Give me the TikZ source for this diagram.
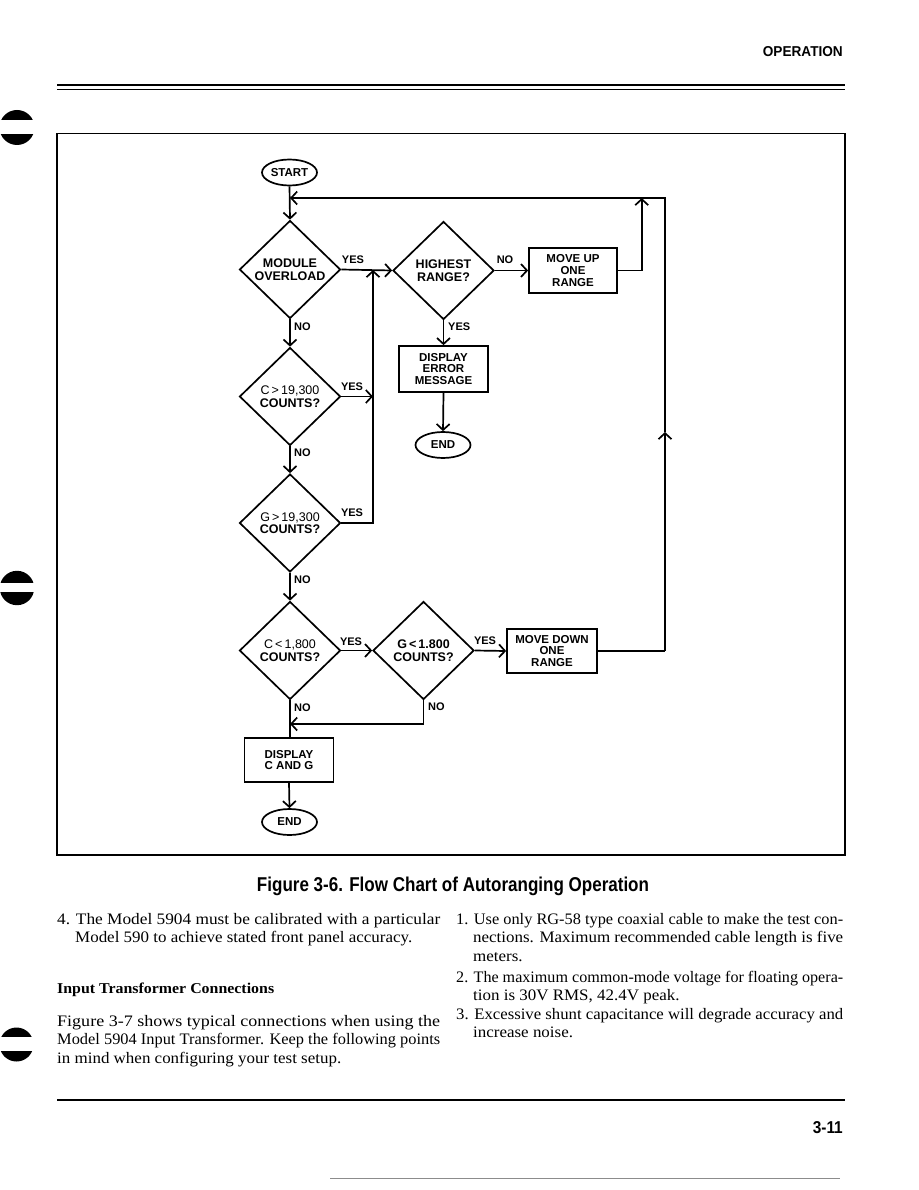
\documentclass[tikz,border=0pt]{standalone}
\usepackage{fontspec}
\setmainfont{Liberation Serif}
\newfontfamily\hsans{Liberation Sans}
\usetikzlibrary{shapes.geometric,arrows.meta}
% justified line: stretched to a given width
\newcommand{\jline}[5]{\node[anchor=base west,inner sep=0pt] (#1) at (#2,#3) {\resizebox{#4pt}{\height}{\fontsize{16}{18}\selectfont #5}};}
% last line of a paragraph: natural width, slightly widened
\newcommand{\eline}[4]{\node[anchor=base west,inner sep=0pt] (#1) at (#2,#3) {\scalebox{1.06}[1]{\fontsize{16}{18}\selectfont #4}};}
\begin{document}
\begin{tikzpicture}[x=1pt,y=-1pt,
  fc/.style={line width=1.7pt},
  arr/.style={fc,-{Straight Barb[length=6pt,width=13pt]}},
  dia/.style={draw,fc,diamond,minimum width=101pt,minimum height=98pt,inner sep=0pt},
  term/.style={draw,fc,ellipse,minimum width=55pt,minimum height=26pt,inner sep=0pt,font=\hsans\bfseries\fontsize{11.5}{12}\selectfont},
  proc/.style={draw,fc,rectangle,inner sep=0pt,align=center,font=\hsans\bfseries\fontsize{11.5}{11.8}\selectfont},
  dtxt/.style={align=center,inner sep=0pt,font=\hsans\bfseries\fontsize{12.5}{12.5}\selectfont},
  lab/.style={inner sep=0pt,font=\hsans\bfseries\fontsize{11}{12}\selectfont},
  margmark/.style={fill=black}
]
\useasboundingbox (0,0) rectangle (918,1190);

% header
\node[anchor=base east,inner sep=0pt] (hdr) at (843,56.7) {\resizebox{80pt}{10pt}{\hsans\bfseries OPERATION}};
\draw[line width=1.8pt] (57,85) -- (845,85);
\draw[line width=1.3pt] (57,89.5) -- (845,89.5);

% margin marks (circle with a band removed)
\begin{scope}\clip (0,105) rectangle (40,119.3); \fill[margmark] (17,127.5) circle (17.5); \end{scope}
\begin{scope}\clip (0,135) rectangle (40,150); \fill[margmark] (17,127.5) circle (17.5); \end{scope}
\begin{scope}\clip (0,565) rectangle (40,582); \fill[margmark] (17,588) circle (17.2); \end{scope}
\begin{scope}\clip (0,592) rectangle (40,610); \fill[margmark] (17,588) circle (17.2); \end{scope}
\begin{scope}\clip (0,1022) rectangle (40,1036.7); \fill[margmark] (16.5,1044.5) circle (17); \end{scope}
\begin{scope}\clip (0,1051.7) rectangle (40,1068); \fill[margmark] (16.5,1044.5) circle (17); \end{scope}

% frame
\draw[line width=1.2pt] (57,133.5) rectangle (845,855);

% flowchart nodes
\node[term] (start) at (289.5,172.5) {START};
\node[dia] (d1) at (290,269.5) {};
\node[dtxt] (t1) at (d1) {MODULE\\OVERLOAD};
\node[dia] (d2) at (443.5,270.5) {};
\node[dtxt] (t2) at (d2) {HIGHEST\\RANGE?};
\node[proc,minimum width=88pt,minimum height=45pt] (moveup) at (573,270.5) {MOVE UP\\ONE\\RANGE};
\node[proc,minimum width=89pt,minimum height=46pt] (err) at (443.5,369) {DISPLAY\\ERROR\\MESSAGE};
\node[term] (end1) at (443,445) {END};
\node[dia] (d3) at (290,396.5) {};
\node[dtxt] (t3) at (d3) {{\mdseries C\,>\,19,300}\\COUNTS?};
\node[dia] (d4) at (290,523) {};
\node[dtxt] (t4) at (d4) {{\mdseries G\,>\,19,300}\\COUNTS?};
\node[dia] (d5) at (290,650.5) {};
\node[dtxt] (t5) at (d5) {{\mdseries C\,<\,1,800}\\COUNTS?};
\node[dia] (d6) at (423.5,650.5) {};
\node[dtxt] (t6) at (d6) {G\,<\,1.800\\COUNTS?};
\node[proc,minimum width=90pt,minimum height=44pt] (movedown) at (552,651) {MOVE DOWN\\ONE\\RANGE};
\node[proc,minimum width=89pt,minimum height=44pt] (dispcg) at (289,760) {DISPLAY\\C AND G};
\node[term] (end2) at (289.5,822) {END};

% junction coordinates
\coordinate (jt) at (290,198);
\coordinate (rt) at (665,198);
\coordinate (rb) at (665,651);
\coordinate (rm) at (665,432);
\coordinate (mu) at (641.7,198);
\coordinate (jv) at (373,270);
\coordinate (jc) at (373,396.5);
\coordinate (jb) at (290,724);

% connectors
\draw[arr] (start.south) -- (d1.north);
\draw[fc] (movedown.east) -- (rb);
\draw[arr] (rb) -- (rm);
\draw[arr] (rm) -- (rt) -- (jt);
\draw[arr] (moveup.east) -| (mu);
\draw[arr] (d1.east) -- (d2.west);
\draw[arr] (d2.east) -- (moveup.west);
\draw[arr] (d2.south) -- (err.north);
\draw[arr] (err.south) -- (end1.north);
\draw[arr] (d1.south) -- (d3.north);
\draw[arr] (d3.east) -- (jc);
\draw[arr] (d3.south) -- (d4.north);
\draw[arr] (d4.east) -| (jv);
\draw[arr] (d4.south) -- (d5.north);
\draw[arr] (d5.east) -- (d6.west);
\draw[arr] (d6.east) -- (movedown.west);
\draw[arr] (d6.south) |- (jb);
\draw[fc] (d5.south) -- (d5.south |- dispcg.north);
\draw[arr] (dispcg.south) -- (end2.north);

% connector labels
\node[lab] (l1) at (353,260) {YES};
\node[lab] (l2) at (505,260) {NO};
\node[lab,anchor=west] (l3) at (294,327) {NO};
\node[lab,anchor=west] (l4) at (448,327) {YES};
\node[lab] (l5) at (352,387) {YES};
\node[lab,anchor=west] (l6) at (294,453) {NO};
\node[lab] (l7) at (352,513) {YES};
\node[lab,anchor=west] (l8) at (294,580) {NO};
\node[lab] (l9) at (351,642) {YES};
\node[lab] (l10) at (485,641) {YES};
\node[lab,anchor=west] (l11) at (294,708) {NO};
\node[lab,anchor=west] (l12) at (428,707) {NO};

% caption
\node[anchor=base,inner sep=0pt] (cap) at (453,891) {\resizebox{392pt}{14.5pt}{\hsans\bfseries Figure 3-6. Flow Chart of Autoranging Operation}};

% body text, left column
\jline{a1}{57}{924}{383}{4. The Model 5904 must be calibrated with a particular}
\eline{a2}{75}{942.5}{Model 590 to achieve stated front panel accuracy.}
\node[anchor=base west,inner sep=0pt] (hd) at (57,993) {\resizebox{217pt}{\height}{\fontsize{15}{16}\selectfont\bfseries Input Transformer Connections}};
\jline{a4}{57}{1026}{383}{Figure 3-7 shows typical connections when using the}
\jline{a5}{57}{1044.5}{383}{Model 5904 Input Transformer. Keep the following points}
\eline{a6}{57}{1063}{in mind when configuring your test setup.}
% body text, right column
\jline{b1}{456}{924}{387}{1. Use only RG-58 type coaxial cable to make the test con-}
\jline{b2}{473}{942.5}{370}{nections. Maximum recommended cable length is five}
\eline{b3}{473}{961}{meters.}
\jline{b4}{456}{982}{387}{2. The maximum common-mode voltage for floating opera-}
\eline{b5}{473}{1000.5}{tion is 30V RMS, 42.4V peak.}
\jline{b6}{456}{1019}{387}{3. Excessive shunt capacitance will degrade accuracy and}
\eline{b7}{473}{1037.5}{increase noise.}

% footer
\draw[line width=1.5pt] (57,1100) -- (845,1100);
\node[anchor=base east,inner sep=0pt] (pg) at (843,1133) {\resizebox{30pt}{12pt}{\hsans\bfseries 3-11}};
\draw[line width=0.8pt,black!45] (330,1178) -- (840,1178);
\end{tikzpicture}
\end{document}
